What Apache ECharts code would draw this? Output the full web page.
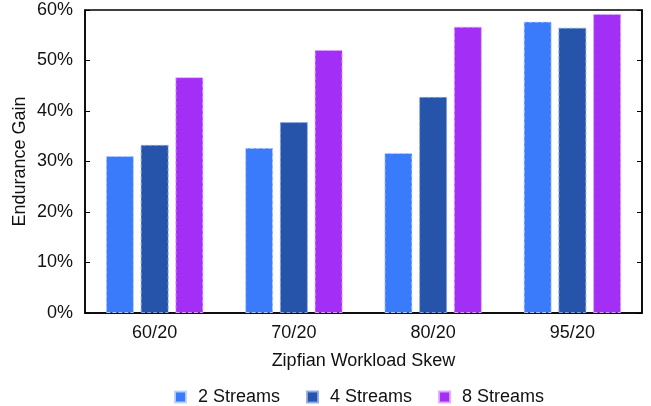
<!DOCTYPE html>
<html>
<head>
<meta charset="utf-8">
<script src="https://cdn.jsdelivr.net/npm/echarts@6/dist/echarts.min.js"></script>
<style>
  html, body { margin: 0; padding: 0; background: #fff; }
  #chart { width: 651px; height: 406px; }
</style>
</head>
<body>
<div id="chart"></div>
<script>
// Workload skew categories and endurance gain (%) per stream count
const categories = ['60/20', '70/20', '80/20', '95/20'];
const seriesNames = ['2 Streams', '4 Streams', '8 Streams'];
const streams2 = [31.1, 32.7, 31.7, 57.7];
const streams4 = [33.3, 37.8, 42.8, 56.5];
const streams8 = [46.7, 52.1, 56.7, 59.2];
const yTicks = [0, 10, 20, 30, 40, 50, 60];

const colors = ['#3a7bfb', '#2554aa', '#a32ff6'];
const edgeColors = ['rgba(190,210,255,0.9)', 'rgba(140,170,230,0.9)', 'rgba(225,170,255,0.9)'];
const font = 'Liberation Sans, Arial, Helvetica, sans-serif';
const fontSize = 18;

const values = [streams2, streams4, streams8];

const chart = echarts.init(document.getElementById('chart'), null, { renderer: 'canvas' });

const yAxisBase = {
  type: 'value',
  min: yTicks[0],
  max: yTicks[yTicks.length - 1],
  interval: 10,
  splitLine: { show: false },
  axisTick: { show: true, inside: true, length: 5, lineStyle: { color: '#000', width: 1 } },
  axisLine: { show: true, lineStyle: { color: '#000', width: 1.5 } }
};

chart.setOption({
  animation: false,
  textStyle: { fontFamily: font },
  grid: { left: 85, right: 9, top: 10, bottom: 93, show: true, borderColor: '#000', borderWidth: 1.5, containLabel: false },
  legend: {
    data: seriesNames,
    top: 383,
    left: 169,
    itemWidth: 11,
    itemHeight: 11,
    itemGap: 26,
    icon: 'rect',
    textStyle: { fontSize: fontSize, color: '#111', fontFamily: font, padding: [0, 0, 0, 7] }
  },
  xAxis: {
    type: 'category',
    data: categories,
    name: 'Zipfian Workload Skew',
    nameLocation: 'middle',
    nameGap: 39,
    nameMoveOverlap: false,
    nameTextStyle: { fontSize: fontSize, color: '#111', fontFamily: font },
    axisTick: { show: false },
    axisLine: { show: true, lineStyle: { color: '#000', width: 1.5 } },
    axisLabel: { fontSize: fontSize, color: '#111', margin: 11, fontFamily: font }
  },
  yAxis: [
    Object.assign({}, yAxisBase, {
      name: 'Endurance Gain',
      nameLocation: 'middle',
      nameGap: 56,
      nameMoveOverlap: false,
      nameTextStyle: { fontSize: fontSize, color: '#111', fontFamily: font },
      axisLabel: { fontSize: fontSize, color: '#111', margin: 12, formatter: v => v + '%', fontFamily: font }
    }),
    Object.assign({}, yAxisBase, {
      position: 'right',
      axisLabel: { show: false }
    })
  ],
  series: seriesNames.map((name, i) => ({
    name: name,
    type: 'bar',
    yAxisIndex: 0,
    data: values[i],
    barWidth: 28,
    barGap: '24%',
    itemStyle: {
      color: colors[i],
      borderColor: edgeColors[i],
      borderWidth: 1,
      borderType: 'dashed'
    }
  }))
});
</script>
</body>
</html>
